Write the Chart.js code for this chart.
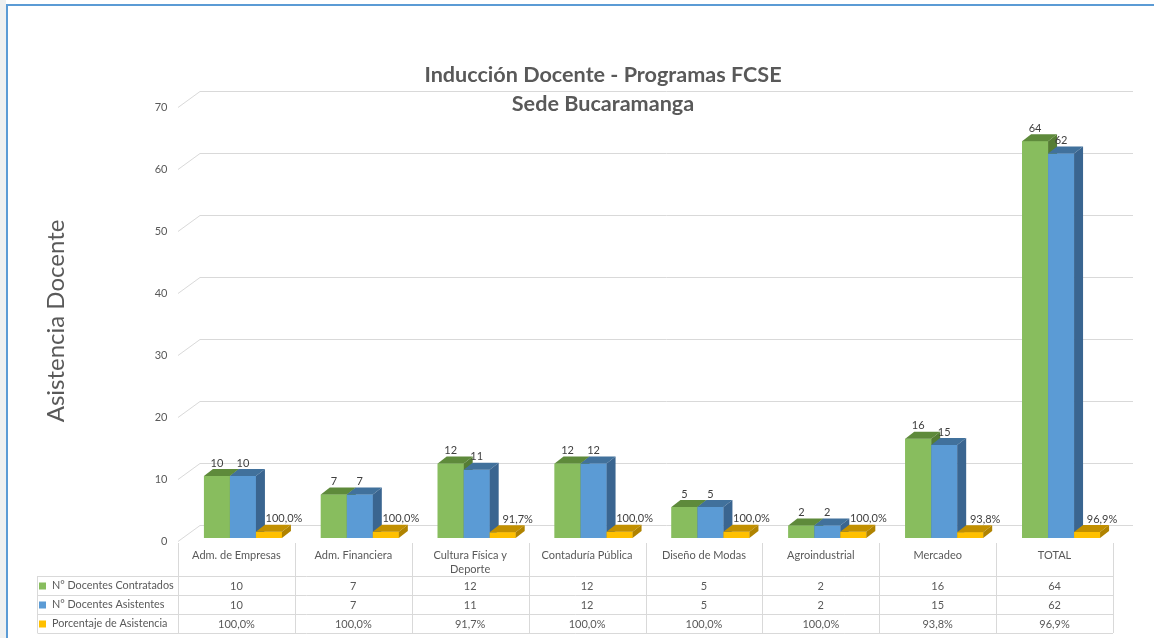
<!DOCTYPE html>
<html lang="es">
<head>
<meta charset="UTF-8">
<title>Inducción Docente - Programas FCSE</title>
<script src="https://cdn.jsdelivr.net/npm/chart.js"></script>
<style>
  html, body { margin: 0; padding: 0; background: #fff; }
</style>
</head>
<body>
<canvas id="chart" width="1154" height="638"></canvas>
<script>
// datos
const categories = ['Adm. de Empresas', 'Adm. Financiera', ['Cultura Física y', 'Deporte'], 'Contaduría Pública',
                    'Diseño de Modas', 'Agroindustrial', 'Mercadeo', 'TOTAL'];
const contratados = [10, 7, 12, 12, 5, 2, 16, 64];
const asistentes = [10, 7, 11, 12, 5, 2, 15, 62];
const porcentaje = [1.0, 1.0, 0.917, 1.0, 1.0, 1.0, 0.938, 0.969];
const seriesNames = ['N° Docentes Contratados', 'N° Docentes Asistentes', 'Porcentaje de Asistencia'];
const yTicks = [0, 10, 20, 30, 40, 50, 60, 70];
const titleLines = ['Inducción Docente - Programas FCSE', 'Sede Bucaramanga'];

const FONT = 'Lato, "Open Sans", sans-serif';
const TEXT = '#595959';
const GRID = '#d9d9d9';

// colores: frente, tapa, lado
const faces = [
    ['#88bd5e', '#5e8a3b', '#557d34'],
    ['#5b9bd5', '#41719c', '#3a6590'],
    ['#ffc000', '#c29000', '#b08300']
];
const DX = 9, DY = -7;          // profundidad de las barras
const TABLE_SHIFT = -6.5;       // la tabla esta un poco a la izquierda de las barras

function fmtPct(v) {
    return (v * 100).toFixed(1).replace('.', ',') + '%';
}

const depthPlugin = {
    id: 'depth',
    beforeDraw(chart) {
        const ctx = chart.ctx;
        ctx.save();
        ctx.fillStyle = '#fff';
        ctx.fillRect(0, 0, chart.width, chart.height);
        ctx.fillStyle = '#eef0f0';
        ctx.fillRect(0, 0, 6, chart.height);
        ctx.strokeStyle = '#5b9bd5';
        ctx.lineWidth = 2;
        ctx.strokeRect(7, 5, chart.width + 20, chart.height + 20);
        ctx.restore();
    },
    beforeDatasetsDraw(chart) {
        // lineas de la pared del fondo
        const ctx = chart.ctx;
        const ys = chart.scales.y;
        ctx.save();
        ctx.strokeStyle = GRID;
        ctx.lineWidth = 1;
        yTicks.forEach(v => {
            const y = Math.round(ys.getPixelForValue(v)) + 0.5;
            ctx.beginPath();
            ctx.moveTo(178, y + 3);
            ctx.lineTo(200, y - 13);
            ctx.lineTo(1133, y - 13);
            ctx.stroke();
        });
        ctx.restore();
    },
    afterDatasetsDraw(chart) {
        const ctx = chart.ctx;
        ctx.save();
        for (let i = 0; i < categories.length; i++) {
            for (let d = 0; d < 3; d++) {
                const bar = chart.getDatasetMeta(d).data[i];
                const x0 = bar.x - bar.width / 2, x1 = bar.x + bar.width / 2;
                const top = bar.y, base = bar.base;
                const c = faces[d];
                ctx.fillStyle = c[0];
                ctx.fillRect(x0, top, x1 - x0, base - top);
                // tapa
                ctx.fillStyle = c[1];
                ctx.beginPath();
                ctx.moveTo(x0, top);
                ctx.lineTo(x0 + DX, top + DY);
                ctx.lineTo(x1 + DX, top + DY);
                ctx.lineTo(x1, top);
                ctx.closePath();
                ctx.fill();
                // lado
                ctx.fillStyle = c[2];
                ctx.beginPath();
                ctx.moveTo(x1, top);
                ctx.lineTo(x1 + DX, top + DY);
                ctx.lineTo(x1 + DX, base + DY);
                ctx.lineTo(x1, base);
                ctx.closePath();
                ctx.fill();
            }
        }
        // etiquetas de datos
        ctx.fillStyle = '#404040';
        ctx.font = '11px ' + FONT;
        ctx.textAlign = 'center';
        ctx.textBaseline = 'middle';
        for (let i = 0; i < categories.length; i++) {
            const g = chart.getDatasetMeta(0).data[i];
            const b = chart.getDatasetMeta(1).data[i];
            const o = chart.getDatasetMeta(2).data[i];
            ctx.fillText(String(contratados[i]), g.x, g.y - 13);
            ctx.fillText(String(asistentes[i]), b.x, b.y - 13);
            ctx.fillText(fmtPct(porcentaje[i]), o.x + 15, o.y - 13);
        }
        ctx.restore();
    },
    afterDraw(chart) {
        const ctx = chart.ctx;
        const xs = chart.scales.x;
        ctx.save();

        // titulo
        ctx.fillStyle = TEXT;
        ctx.font = 'bold 21.6px ' + FONT;
        ctx.textAlign = 'center';
        ctx.textBaseline = 'middle';
        ctx.fillText(titleLines[0], 603, 75);
        ctx.fillText(titleLines[1], 603, 104);

        // tabla de datos
        const colW = xs.getPixelForValue(1) - xs.getPixelForValue(0);
        const left = xs.getPixelForValue(0) - colW / 2 + TABLE_SHIFT;
        const right = left + colW * categories.length;
        const rows = [576, 595, 614, 633];
        ctx.strokeStyle = GRID;
        ctx.lineWidth = 1;
        ctx.beginPath();
        for (let k = 0; k <= categories.length; k++) {
            const x = Math.round(left + k * colW) + 0.5;
            ctx.moveTo(x, 543);
            ctx.lineTo(x, 633);
        }
        ctx.moveTo(37.5, 576);
        ctx.lineTo(37.5, 633);
        rows.forEach(y => {
            ctx.moveTo(37.5, y + 0.5);
            ctx.lineTo(right, y + 0.5);
        });
        ctx.stroke();

        ctx.font = '11px ' + FONT;
        ctx.fillStyle = TEXT;
        ctx.textAlign = 'center';
        const rowVals = [
            contratados.map(String),
            asistentes.map(String),
            porcentaje.map(fmtPct)
        ];
        for (let i = 0; i < categories.length; i++) {
            const cx = left + colW * (i + 0.5);
            const lab = [].concat(categories[i]);
            lab.forEach((t, j) => ctx.fillText(t, cx, 555 + j * 14.5));
            rowVals.forEach((r, j) => ctx.fillText(r[i], cx, 586 + j * 19));
        }
        // leyenda en la tabla
        ctx.textAlign = 'left';
        ctx.font = '10.8px ' + FONT;
        seriesNames.forEach((s, j) => {
            const cy = 586 + j * 19;
            ctx.fillStyle = faces[j][0];
            ctx.fillRect(39, cy - 3.5, 7, 7);
            ctx.fillStyle = TEXT;
            ctx.fillText(s, 52, cy);
        });
        ctx.restore();
    }
};

const ctx = document.getElementById('chart').getContext('2d');
const chart = new Chart(ctx, {
    type: 'bar',
    data: {
        labels: categories,
        datasets: [
            { label: seriesNames[0], data: contratados, backgroundColor: faces[0][0] },
            { label: seriesNames[1], data: asistentes, backgroundColor: faces[1][0] },
            { label: seriesNames[2], data: porcentaje, backgroundColor: faces[2][0] }
        ]
    },
    options: {
        responsive: false,
        animation: false,
        categoryPercentage: 0.667,
        barPercentage: 1.0,
        layout: { padding: { left: 0, right: 34.5, top: 104, bottom: 100 } },
        plugins: {
            legend: { display: false },
            tooltip: { enabled: false }
        },
        scales: {
            x: { display: false },
            y: {
                min: 0,
                max: 70,
                afterFit: s => { s.width = 184.5; },
                grid: { display: false, drawTicks: false },
                border: { display: false },
                ticks: { stepSize: 10, color: TEXT, padding: 17, labelOffset: 3, font: { family: FONT, size: 11 } },
                title: {
                    display: true,
                    text: 'Asistencia Docente',
                    color: TEXT,
                    font: { family: FONT, size: 24 },
                    padding: { top: 42, bottom: 0 }
                }
            }
        }
    },
    plugins: [depthPlugin]
});
</script>
</body>
</html>
